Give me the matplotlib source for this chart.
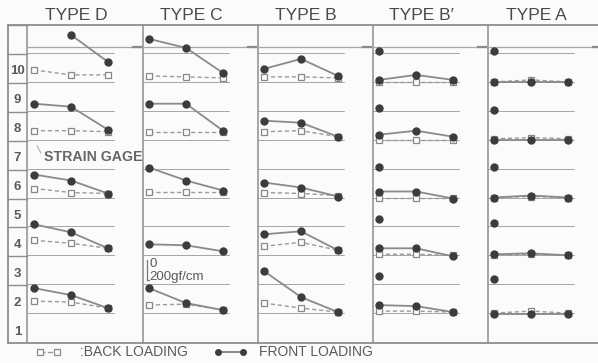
import numpy as np
import matplotlib
matplotlib.use("Agg")
import matplotlib.pyplot as plt

nan = np.nan

# ---------------- data (gf/cm) ----------------
types = ["TYPE D", "TYPE C", "TYPE B", "TYPE B\u2032", "TYPE A"]
gages = [11, 10, 9, 8, 7, 6, 5, 4, 3, 2, 1]
gage_labels = ["", "10", "9", "8", "7", "6", "5", "4", "3", "2", "1"]
load_positions = [0, 1, 2]

front_D = {10: [nan, 480, 210], 8: [370, 340, 110], 6: [240, 180, 50], 4: [320, 240, 80], 2: [260, 190, 60]}
back_D = {10: [130, 80, 80], 8: [100, 100, 90], 6: [100, 60, 50], 4: [160, 130, 80], 2: [130, 120, 60]}

front_C = {10: [440, 350, 100], 8: [370, 370, 100], 6: [310, 180, 80], 4: [120, 110, 50], 2: [260, 110, 40]}
back_C = {10: [70, 60, 50], 8: [90, 90, 90], 6: [70, 70, 70], 2: [90, 100, 40]}

front_B = {10: [140, 240, 70], 8: [200, 180, 40], 6: [160, 110, 20], 4: [220, 250, 60], 2: [430, 170, 20]}
back_B = {10: [60, 60, 50], 8: [90, 100, 40], 6: [60, 50, 30], 4: [100, 140, 60], 2: [110, 60, 20]}

front_Bp = {11: [30, nan, nan], 10: [30, 80, 30], 9: [40, nan, nan], 8: [60, 100, 40], 7: [30, nan, nan],
            6: [70, 70, 0], 5: [80, nan, nan], 4: [80, 80, 0], 3: [90, nan, nan], 2: [90, 80, 20]}
back_Bp = {10: [10, 10, 10], 8: [10, 10, 10], 6: [10, 10, 10], 4: [20, 20, 10], 2: [30, 30, 20]}

front_A = {11: [30, nan, nan], 10: [10, 10, 10], 9: [20, nan, nan], 8: [10, 10, 10], 7: [30, nan, nan],
           6: [10, 30, 10], 5: [40, nan, nan], 4: [20, 30, 10], 3: [60, nan, nan], 2: [0, 0, 0]}
back_A = {10: [10, 30, 10], 8: [20, 30, 20], 6: [10, 20, 10], 4: [10, 20, 10], 2: [10, 30, 10]}

fronts = [front_D, front_C, front_B, front_Bp, front_A]
backs = [back_D, back_C, back_B, back_Bp, back_A]

# ---------------- layout (pixels) ----------------
W, H, DPI = 598, 363, 100
FRAME_L, LABEL_R = 8, 27
COL_LEFTS = [28, 143, 258, 373, 488]
COL_W = 115
TOP, BOTTOM = 25, 343
ROW_H = 28.9
X0_OFF, DX, BASE_LEN = 6, 37, 86
PX_PER_GF = 0.1

BG = "#fbfbfb"
FRAME_C = "#8e8e8e"
TEXT_C = "#5a5a5a"
LINE_C = "#9a9a9a"
MARK_C = "#3c3c3c"
plt.rcParams['font.family'] = ['Liberation Sans', 'DejaVu Sans']

fig = plt.figure(figsize=(W / DPI, H / DPI), dpi=DPI, facecolor=BG)
main = fig.add_axes([0, 0, 1, 1])
main.set_xlim(0, W)
main.set_ylim(H, 0)
main.axis("off")

# frame
main.plot([FRAME_L, W], [TOP, TOP], color=FRAME_C, lw=1.3)
main.plot([FRAME_L, W], [BOTTOM, BOTTOM], color=FRAME_C, lw=1.3)
main.plot([FRAME_L, FRAME_L], [TOP, BOTTOM], color=FRAME_C, lw=1.3)
main.plot([LABEL_R, LABEL_R], [TOP, BOTTOM], color=FRAME_C, lw=1.1)
for cl in COL_LEFTS[1:]:
    main.plot([cl - 0.5, cl - 0.5], [TOP, BOTTOM], color=FRAME_C, lw=1.1)
# long line under top row and dark ticks
main.plot([LABEL_R, W], [46.5, 46.5], color="#a8a8a8", lw=0.9)
for cl in COL_LEFTS:
    main.plot([cl + 105, cl + 113], [47, 47], color="#8a8a8a", lw=1.6)

for i, (g, lab) in enumerate(zip(gages, gage_labels)):
    base = BOTTOM - (g - 1) * ROW_H
    top = base - ROW_H
    if g != 1:
        main.plot([FRAME_L, LABEL_R], [top, top], color=FRAME_C, lw=1.0)
    main.text(17.5, (base + top) / 2 + 3, lab, ha="center", va="center",
              fontsize=9.5, color=TEXT_C, fontweight="bold")

for cl, t in zip(COL_LEFTS, types):
    main.text(cl + 48, 15, t, ha="center", va="center", fontsize=12.5, color="#4a4a4a")

main.text(44, 157, "STRAIN GAGE", ha="left", va="center", fontsize=10.2,
          fontweight="bold", color="#666666")
main.plot([37, 41], [146, 153], color="#b0b0b0", lw=0.8)

# legend
main.plot([40, 57], [352, 352], ls="--", color=LINE_C, lw=1.0, marker="s", ms=3.8,
          mfc=BG, mec="#8a8a8a", mew=0.9)
main.text(80, 352, ":BACK LOADING", ha="left", va="center", fontsize=10, color=TEXT_C)
main.plot([218, 243], [352, 352], ls="-", color="#777777", lw=1.2, marker="o", ms=4,
          mfc=MARK_C, mec=MARK_C)
main.text(259, 352, "FRONT LOADING", ha="left", va="center", fontsize=10, color=TEXT_C)

# ---------------- cell panels ----------------
xlim = (-X0_OFF / DX, (COL_W - X0_OFF) / DX)
ylim = (0, ROW_H / PX_PER_GF)
for ci, cl in enumerate(COL_LEFTS):
    for g in gages:
        if g == 1:
            continue
        base = BOTTOM - (g - 1) * ROW_H
        ax = fig.add_axes([cl / W, (H - base) / H, COL_W / W, ROW_H / H])
        ax.set_xlim(*xlim)
        ax.set_ylim(*ylim)
        ax.axis("off")
        ax.patch.set_alpha(0)
        ax.axhline(0, xmin=0, xmax=BASE_LEN / COL_W, color=FRAME_C, lw=1.1)
        b = backs[ci].get(g)
        if b is not None:
            ax.plot(load_positions, b, ls="--", color=LINE_C, lw=1.0, marker="s", ms=4.3,
                    mfc=BG, mec="#888888", mew=0.9, clip_on=False, dashes=(3, 2))
        f = fronts[ci].get(g)
        if f is not None:
            ax.plot(load_positions, f, ls="-", color="#8a8a8a", lw=1.3, marker="o", ms=5,
                    mfc=MARK_C, mec=MARK_C, clip_on=False)
        if ci == 1 and g == 3:
            sx = (147 - cl - X0_OFF) / DX
            ax.plot([sx, sx], [50, 250], color="#777777", lw=0.9)
            ax.plot([sx, sx + 0.05], [50, 50], color="#777777", lw=0.9)
            ax.text(sx + 0.06, 215, "0", ha="left", va="center", fontsize=9.5, color=TEXT_C)
            ax.text(sx + 0.06, 85, "200gf/cm", ha="left", va="center", fontsize=9.5, color=TEXT_C)

fig.savefig("out.png", dpi=DPI, facecolor=BG)
